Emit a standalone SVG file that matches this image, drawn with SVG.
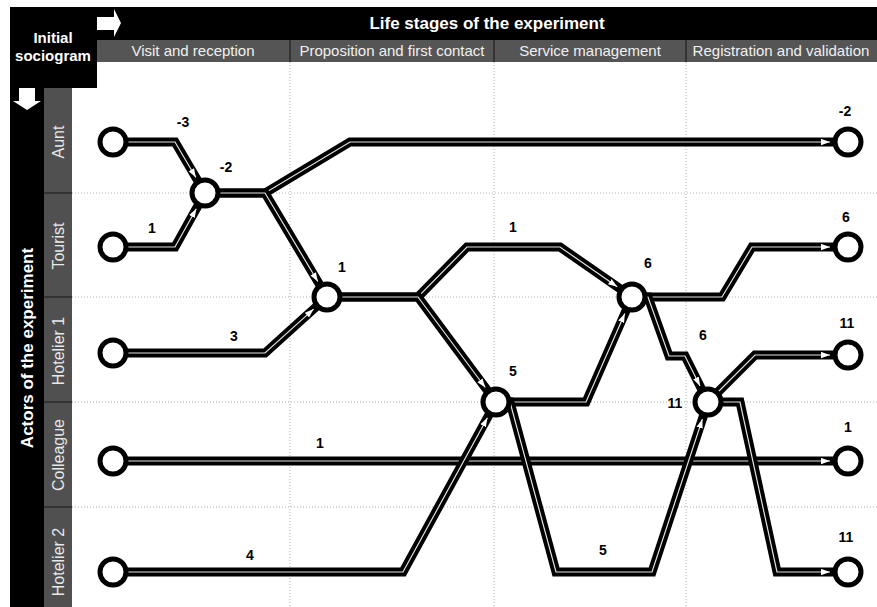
<svg xmlns="http://www.w3.org/2000/svg" width="877" height="607" viewBox="0 0 877 607">
<style>
.grid{stroke:#b0b0b0;stroke-width:1;stroke-dasharray:1,2;fill:none}
.sep{stroke:#2a2a2a;stroke-width:1.5}
.blk{fill:none;stroke:#000;stroke-width:9;stroke-linejoin:miter;stroke-miterlimit:10}
.wht{fill:none;stroke:#e4e4e4;stroke-width:1.2;stroke-linejoin:miter;marker-end:url(#ah)}
.node{fill:#fff;stroke:#000;stroke-width:5}
.lbl{font-family:"Liberation Sans",Arial,sans-serif;font-weight:bold;font-size:14px;text-anchor:middle;fill:#000}
.hdr{font-family:"Liberation Sans",Arial,sans-serif;font-weight:bold;font-size:17px;text-anchor:middle;fill:#fff}
.sub{font-family:"Liberation Sans",Arial,sans-serif;font-size:15px;text-anchor:middle;fill:#f0f0f0}
.lane{font-family:"Liberation Sans",Arial,sans-serif;font-size:16px;text-anchor:middle;fill:#e8e8e8}
</style>
<defs>
<marker id="ah" viewBox="0 0 10 7" refX="10" refY="3.5" markerWidth="9" markerHeight="7" markerUnits="userSpaceOnUse" orient="auto">
<path d="M0,0L10,3.5L0,7z" fill="#fff"/>
</marker>
</defs>
<rect width="877" height="607" fill="#fff"/>
<g id="grid">
<line class="grid" x1="72" y1="193" x2="877" y2="193"/>
<line class="grid" x1="72" y1="297" x2="877" y2="297"/>
<line class="grid" x1="72" y1="402" x2="877" y2="402"/>
<line class="grid" x1="72" y1="507" x2="877" y2="507"/>
<line class="grid" x1="290" y1="62" x2="290" y2="607"/>
<line class="grid" x1="494" y1="62" x2="494" y2="607"/>
<line class="grid" x1="686" y1="62" x2="686" y2="607"/>
</g>
<g id="header">
<rect x="10" y="7" width="867" height="33" fill="#000"/>
<rect x="10" y="7" width="87" height="81" fill="#000"/>
<rect x="97" y="40" width="780" height="22" fill="#555"/>
<rect x="10" y="88" width="34" height="519" fill="#000"/>
<rect x="44" y="88" width="28" height="519" fill="#505050"/>
<line class="sep" x1="290" y1="40" x2="290" y2="62"/>
<line class="sep" x1="494" y1="40" x2="494" y2="62"/>
<line class="sep" x1="686" y1="40" x2="686" y2="62"/>
<line class="sep" x1="44" y1="193" x2="72" y2="193"/>
<line class="sep" x1="44" y1="297" x2="72" y2="297"/>
<line class="sep" x1="44" y1="402" x2="72" y2="402"/>
<line class="sep" x1="44" y1="507" x2="72" y2="507"/>
<polygon points="97,17 114,17 114,9 121,23 114,37 114,30 97,30" fill="#fff"/>
<polygon points="19,88 35,88 35,101 41,101 27,110 13,101 19,101" fill="#fff"/>
<text class="hdr" x="53" y="43" style="font-size:15px">Initial</text>
<text class="hdr" x="53" y="61" style="font-size:15px">sociogram</text>
<text class="hdr" x="487" y="29">Life stages of the experiment</text>
<text class="sub" x="193" y="56">Visit and reception</text>
<text class="sub" x="392" y="56">Proposition and first contact</text>
<text class="sub" x="590" y="56">Service management</text>
<text class="sub" x="781" y="56">Registration and validation</text>
<text class="hdr" transform="translate(33,348) rotate(-90)">Actors of the experiment</text>
<text class="lane" transform="translate(64,142) rotate(-90)">Aunt</text>
<text class="lane" transform="translate(64,246) rotate(-90)">Tourist</text>
<text class="lane" transform="translate(64,351) rotate(-90)">Hotelier 1</text>
<text class="lane" transform="translate(64,455) rotate(-90)">Colleague</text>
<text class="lane" transform="translate(64,562) rotate(-90)">Hotelier 2</text>
</g>
<g id="connectors">
<g><path class="blk" d="M113,461 L848,461"/><path class="wht" d="M113,461 L830,461"/></g>
<g><path class="blk" d="M113,142 L175,142 L205,193"/><path class="wht" d="M113,142 L175,142 L195.9,177.5"/></g>
<g><path class="blk" d="M113,247 L175,247 L205,193"/><path class="wht" d="M113,247 L175,247 L196.3,208.7"/></g>
<g><path class="blk" d="M205,193 L265,193 L350,142 L848,142"/><path class="wht" d="M205,193 L265,193 L350,142 L830,142"/></g>
<g><path class="blk" d="M205,193 L265,193 L327,297"/><path class="wht" d="M205,193 L265,193 L317.8,281.5"/></g>
<g><path class="blk" d="M113,353 L265,353 L327,297"/><path class="wht" d="M113,353 L265,353 L313.6,309.1"/></g>
<g><path class="blk" d="M327,297 L418,297 L467,247 L560,247 L632,297"/><path class="wht" d="M327,297 L418,297 L467,247 L560,247 L617.2,286.7"/></g>
<g><path class="blk" d="M327,297 L418,297 L496,402"/><path class="wht" d="M327,297 L418,297 L485.3,387.5"/></g>
<g><path class="blk" d="M113,572 L403,572 L496,402"/><path class="wht" d="M113,572 L403,572 L487.4,417.8"/></g>
<g><path class="blk" d="M496,402 L586,402 L632,297"/><path class="wht" d="M496,402 L586,402 L624.8,313.5"/></g>
<g><path class="blk" d="M496,402 L510,402 L556,572 L652,572 L708,402"/><path class="wht" d="M496,402 L510,402 L556,572 L652,572 L702.4,419.1"/></g>
<g><path class="blk" d="M632,297 L722,297 L752,247 L848,247"/><path class="wht" d="M632,297 L722,297 L752,247 L830,247"/></g>
<g><path class="blk" d="M632,297 L648,297 L669,356 L685,356 L708,402"/><path class="wht" d="M632,297 L648,297 L669,356 L685,356 L700,385.9"/></g>
<g><path class="blk" d="M708,402 L755,355 L848,355"/><path class="wht" d="M708,402 L755,355 L830,355"/></g>
<g><path class="blk" d="M708,402 L740,402 L777,572 L848,572"/><path class="wht" d="M708,402 L740,402 L777,572 L830,572"/></g>
</g>
<g id="n-aunt-start"><circle class="node" cx="113" cy="142" r="13"/></g>
<g id="n-tourist-start"><circle class="node" cx="113" cy="247" r="13"/></g>
<g id="n-hotelier1-start"><circle class="node" cx="113" cy="353" r="13"/></g>
<g id="n-colleague-start"><circle class="node" cx="113" cy="461" r="13"/></g>
<g id="n-hotelier2-start"><circle class="node" cx="113" cy="572" r="13"/></g>
<g id="n-m2"><circle class="node" cx="205" cy="193" r="13"/></g>
<g id="n-1"><circle class="node" cx="327" cy="297" r="13"/></g>
<g id="n-5"><circle class="node" cx="496" cy="402" r="13"/></g>
<g id="n-6"><circle class="node" cx="632" cy="297" r="13"/></g>
<g id="n-11"><circle class="node" cx="708" cy="402" r="13"/></g>
<g id="n-aunt-end"><circle class="node" cx="848" cy="142" r="13"/></g>
<g id="n-tourist-end"><circle class="node" cx="848" cy="247" r="13"/></g>
<g id="n-hotelier1-end"><circle class="node" cx="848" cy="355" r="13"/></g>
<g id="n-colleague-end"><circle class="node" cx="848" cy="461" r="13"/></g>
<g id="n-hotelier2-end"><circle class="node" cx="848" cy="572" r="13"/></g>
<g id="labels">
<text class="lbl" x="183" y="127">-3</text>
<text class="lbl" x="152" y="233">1</text>
<text class="lbl" x="226" y="172">-2</text>
<text class="lbl" x="342" y="272">1</text>
<text class="lbl" x="234" y="341">3</text>
<text class="lbl" x="513" y="232">1</text>
<text class="lbl" x="648" y="268">6</text>
<text class="lbl" x="513" y="376">5</text>
<text class="lbl" x="703" y="340">6</text>
<text class="lbl" x="675" y="408">11</text>
<text class="lbl" x="320" y="448">1</text>
<text class="lbl" x="250" y="560">4</text>
<text class="lbl" x="603" y="555">5</text>
<text class="lbl" x="845" y="116">-2</text>
<text class="lbl" x="846" y="222">6</text>
<text class="lbl" x="847" y="328">11</text>
<text class="lbl" x="848" y="432">1</text>
<text class="lbl" x="846" y="542">11</text>
</g>
</svg>
